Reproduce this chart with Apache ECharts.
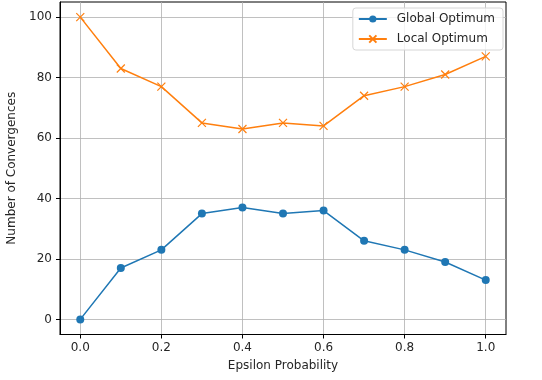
<!DOCTYPE html>
<html>
<head>
<meta charset="utf-8">
<script src="https://cdn.jsdelivr.net/npm/echarts@6/dist/echarts.min.js"></script>
<style>
  html, body { margin: 0; padding: 0; background: #fff; }
  #chart { width: 542px; height: 380px; }
</style>
</head>
<body>
<div id="chart"></div>
<script>
// data
const epsilon = [0.0, 0.1, 0.2, 0.3, 0.4, 0.5, 0.6, 0.7, 0.8, 0.9, 1.0]
const globalOpt = [0, 17, 23, 35, 37, 35, 36, 26, 23, 19, 13]
const localOpt = [100, 83, 77, 65, 63, 65, 64, 74, 77, 81, 87]
const xTicks = [0.0, 0.2, 0.4, 0.6, 0.8, 1.0]
const yTicks = [0, 20, 40, 60, 80, 100]

const font = 'DejaVu Sans'
const textColor = '#262626'

function pairs (ys) {
  return epsilon.map((x, i) => [x, ys[i]])
}

// matplotlib style 'x' marker
const crossSymbol = 'path://M0,0L10,10M10,0L0,10'

const myChart = echarts.init(document.getElementById('chart'), null, { renderer: 'canvas' })
const option = {
  animation: false,
  backgroundColor: '#fff',
  textStyle: { fontFamily: font },
  // box around the plot like matplotlib
  grid: {
    left: 60, right: 36, top: 2, bottom: 45.5,
    containLabel: false,
    outerBoundsMode: 'none',
    show: true,
    borderColor: '#000',
    borderWidth: 1,
    backgroundColor: 'transparent'
  },
  legend: {
    orient: 'vertical',
    right: 39,
    top: 8,
    itemWidth: 28,
    itemHeight: 9,
    itemGap: 8,
    padding: [5, 8, 5, 5],
    backgroundColor: 'rgba(255,255,255,0.8)',
    borderColor: '#d6d6d6',
    borderWidth: 1,
    borderRadius: 3,
    textStyle: { fontFamily: font, fontSize: 12, color: textColor, padding: [0, 0, 0, 5] },
    data: ['Global Optimum', 'Local Optimum']
  },
  xAxis: {
    type: 'value',
    min: -0.05,
    max: 1.05,
    name: 'Epsilon Probability',
    nameLocation: 'middle',
    nameGap: 25,
    nameTextStyle: { fontFamily: font, fontSize: 12, color: textColor },
    axisLine: { show: true, onZero: false, lineStyle: { color: '#000', width: 1 } },
    axisTick: { show: true, inside: false, length: 4, customValues: xTicks, lineStyle: { color: '#000' } },
    axisLabel: {
      customValues: xTicks,
      margin: 7,
      fontFamily: font,
      fontSize: 12,
      color: textColor,
      formatter: v => v.toFixed(1)
    },
    splitLine: { show: true, lineStyle: { color: '#b0b0b0', width: 0.8 } }
  },
  yAxis: {
    type: 'value',
    min: -5,
    max: 105,
    name: 'Number of Convergences',
    nameLocation: 'middle',
    nameGap: 37,
    nameTextStyle: { fontFamily: font, fontSize: 12, color: textColor },
    axisLine: { show: true, onZero: false, lineStyle: { color: '#000', width: 1 } },
    axisTick: { show: true, inside: false, length: 4, customValues: yTicks, lineStyle: { color: '#000' } },
    axisLabel: {
      customValues: yTicks,
      margin: 8,
      fontFamily: font,
      fontSize: 12,
      color: textColor
    },
    splitLine: { show: true, lineStyle: { color: '#b0b0b0', width: 0.8 } }
  },
  series: [
    {
      name: 'Global Optimum',
      type: 'line',
      data: pairs(globalOpt),
      symbol: 'circle',
      symbolSize: 8,
      showAllSymbol: true,
      lineStyle: { color: '#1f77b4', width: 1.5 },
      itemStyle: { color: '#1f77b4', borderWidth: 0 },
      z: 3
    },
    {
      name: 'Local Optimum',
      type: 'line',
      data: pairs(localOpt),
      symbol: crossSymbol,
      symbolSize: 8,
      showAllSymbol: true,
      lineStyle: { color: '#ff7f0e', width: 1.5 },
      itemStyle: { color: '#ff7f0e', borderColor: '#ff7f0e', borderWidth: 1.2 },
      z: 3
    }
  ]
}
myChart.clear()
myChart.setOption(option)
</script>
</body>
</html>
